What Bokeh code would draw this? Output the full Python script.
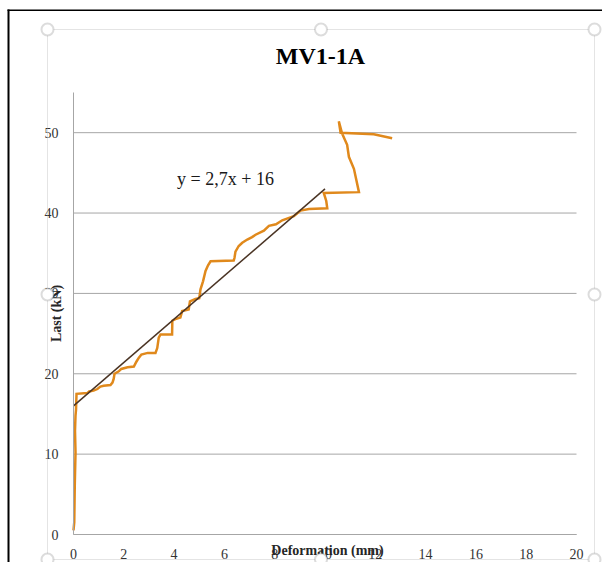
from bokeh.plotting import figure
from bokeh.models import Range1d, FixedTicker, Label, BoxAnnotation
from bokeh.embed import file_html
from bokeh.resources import INLINE

# ---- data ----
deform_mm = [0.00, 0.03, 0.05, 0.08, 0.06, 0.08, 0.10, 0.12, 0.55, 0.62, 0.80, 0.95,
             1.07, 1.20, 1.47, 1.55, 1.60, 1.63, 1.80, 1.90, 2.15, 2.40, 2.50, 2.60,
             2.70, 2.95, 3.26, 3.33, 3.39, 3.46, 3.92, 3.93, 4.05, 4.25, 4.32, 4.58,
             4.63, 4.85, 5.00, 5.05, 5.15, 5.25, 5.35, 5.45, 6.37, 6.40, 6.44, 6.57,
             6.71, 6.91, 7.10, 7.24, 7.57, 7.77, 8.05, 8.30, 8.76, 9.03, 9.36, 10.09,
             10.05, 9.95, 11.35, 11.15, 10.95, 10.88, 10.68, 10.55, 10.62, 11.94, 12.67]
load_kn = [0.5, 1.5, 6.0, 10.2, 12.9, 14.8, 15.5, 17.5, 17.6, 17.8, 17.9, 18.1,
           18.4, 18.5, 18.6, 18.9, 19.4, 20.0, 20.3, 20.6, 20.8, 20.9, 21.5, 22.0,
           22.4, 22.6, 22.6, 23.2, 24.5, 24.9, 24.9, 26.6, 26.8, 27.0, 27.8, 28.0,
           29.0, 29.3, 29.4, 30.5, 31.5, 32.8, 33.5, 34.0, 34.1, 34.4, 35.2, 35.9,
           36.3, 36.7, 37.0, 37.3, 37.8, 38.4, 38.6, 39.1, 39.6, 40.3, 40.5, 40.6,
           41.5, 42.5, 42.6, 45.5, 47.0, 48.5, 49.9, 51.4, 50.0, 49.8, 49.3]
trend_x = [0.0, 10.0]
trend_y = [16.0, 43.0]
x_ticks = [0, 2, 4, 6, 8, 10, 12, 14, 16, 18, 20]
y_ticks = [0, 10, 20, 30, 40, 50]
title_text = "MV1-1A"
x_title = "Deformation (mm)"
y_title = "Last (kN)"
equation = "y = 2,7x + 16"

# ---- layout (pixel geometry of the chart) ----
W, H = 602, 562
FL, FR, FT, FB = 73, 576, 92, 534      # plot area in pixels
XMIN, XMAX, YMIN, YMAX = 0, 20, 0, 55
SERIF = "Liberation Serif"
GREY = "#a6a6a6"
HANDLE = "#8c8c8c"


def dx(px):
    return XMIN + (px - FL) / (FR - FL) * (XMAX - XMIN)


def dy(py):
    return YMIN + (FB - py) / (FB - FT) * (YMAX - YMIN)


p = figure(width=W, height=H, x_range=Range1d(dx(0), dx(W)), y_range=Range1d(dy(H), dy(0)),
           output_backend="svg", toolbar_location=None, min_border=0)
p.title.visible = False
p.outline_line_color = None
p.background_fill_color = "white"
p.border_fill_color = "white"
p.xgrid.visible = False
p.ygrid.visible = False

# horizontal gridlines across the plot area
p.segment(x0=[XMIN] * len(y_ticks), x1=[XMAX] * len(y_ticks), y0=y_ticks, y1=y_ticks,
          line_color=GREY, line_width=1, level="underlay")

p.xaxis.fixed_location = YMIN
p.xaxis.bounds = (XMIN, XMAX)
p.yaxis.fixed_location = XMIN
p.yaxis.bounds = (YMIN, YMAX)
for ax, ticks, standoff in ((p.xaxis, x_ticks, 8), (p.yaxis, y_ticks, 9)):
    ax.ticker = FixedTicker(ticks=ticks)
    ax.major_tick_line_color = None
    ax.minor_tick_line_color = None
    ax.axis_line_color = GREY
    ax.axis_line_width = 1
    ax.major_label_text_font = SERIF
    ax.major_label_text_font_size = "14px"
    ax.major_label_text_color = "#333333"
    ax.major_label_standoff = standoff

p.line(deform_mm, load_kn, line_color="#E0891C", line_width=2.5, line_join="miter")
p.line(trend_x, trend_y, line_color="#4a3424", line_width=1.5)

# texts
p.add_layout(Label(x=dx(320), y=dy(55), text=title_text, text_align="center",
                   text_baseline="middle", text_font=SERIF, text_font_style="bold",
                   text_font_size="24px", text_color="black"))
p.add_layout(Label(x=dx(225), y=dy(178), text=equation, text_align="center",
                   text_baseline="middle", text_font=SERIF, text_font_size="18px",
                   text_color="#1a1a1a"))
p.add_layout(Label(x=dx(327), y=dy(550), text=x_title, text_align="center",
                   text_baseline="middle", text_font=SERIF, text_font_style="bold",
                   text_font_size="14px", text_color="#262626"))
p.add_layout(Label(x=dx(56), y=dy(313), text=y_title, angle=90, angle_units="deg",
                   text_align="center", text_baseline="middle", text_font=SERIF,
                   text_font_style="bold", text_font_size="14px", text_color="#262626"))

# window / selection decorations
p.add_layout(BoxAnnotation(left=dx(7), right=dx(9), top=dy(9), bottom=dy(580),
                           fill_color="black", fill_alpha=1, line_color=None))
p.add_layout(BoxAnnotation(left=dx(7), right=dx(620), top=dy(9), bottom=dy(10.5),
                           fill_color="black", fill_alpha=1, line_color=None))
p.add_layout(BoxAnnotation(left=dx(47), right=dx(594), top=dy(29), bottom=dy(559),
                           fill_color=None, fill_alpha=0, line_color=GREY, line_width=1))
for cx, cy in ((47, 29), (320.5, 29), (594, 29), (47, 294), (594, 294),
               (47, 559), (320.5, 559), (594, 559)):
    p.add_layout(BoxAnnotation(left=dx(cx - 6), right=dx(cx + 6), top=dy(cy - 6),
                               bottom=dy(cy + 6), border_radius=6, fill_color="white",
                               fill_alpha=1, line_color=HANDLE, line_width=2))

open("out.html", "w").write(file_html(p, INLINE))
